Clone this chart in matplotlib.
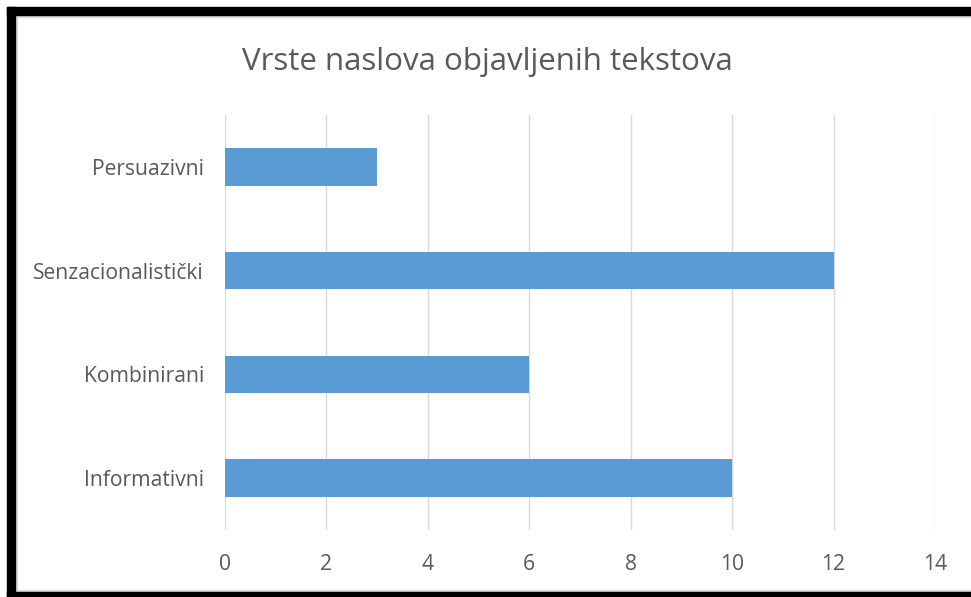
import matplotlib
matplotlib.use('Agg')
import matplotlib.pyplot as plt
from matplotlib.patches import Rectangle

categories = ['Informativni', 'Kombinirani', 'Senzacionalistički', 'Persuazivni']
values = [10, 6, 12, 3]
xticks = [0, 2, 4, 6, 8, 10, 12, 14]

W, H = 971, 597
fig = plt.figure(figsize=(W / 100, H / 100), dpi=100)
ax = fig.add_axes([225 / W, 1 - 530 / H, 710 / W, 415 / H])

plt.rcParams['font.family'] = ['Open Sans', 'DejaVu Sans']
grey = '#595959'
fam = ['Open Sans', 'DejaVu Sans']

ax.barh(range(len(categories)), values, height=0.36, color='#5B9BD5', zorder=3)
ax.set_xlim(0, 14)
ax.set_ylim(-0.5, len(categories) - 0.5)
ax.set_xticks(xticks)
ax.set_yticks(range(len(categories)))
ax.set_yticklabels(categories, fontsize=15.2, color=grey, family=fam)
ax.set_xticklabels([str(t) for t in xticks], fontsize=15.2, color=grey, family=fam)
ax.tick_params(length=0, pad=17, axis='x')
ax.tick_params(length=0, pad=15, axis='y')
ax.grid(axis='x', color='#D9D9D9', linewidth=1, zorder=0)
for s in ax.spines.values():
    s.set_visible(False)

fig.text(487 / W, 1 - 62 / H, 'Vrste naslova objavljenih tekstova', ha='center', va='center',
         fontsize=22.5, color=grey, family=fam)

# frame around the picture, in pixels
def box(x, y, w, h, c):
    fig.patches.append(Rectangle((x / W, 1 - (y + h) / H), w / W, h / H,
                                 transform=fig.transFigure, color=c, zorder=10))

box(15, 15, W - 15, 2, '#DDDDDD')
box(15, 15, 2, H - 20, '#DDDDDD')
box(15, 590, W - 15, 2, '#DDDDDD')
box(7, 7, W - 7, 8, 'black')
box(7, 7, 8, H - 7, 'black')
box(7, 592, W - 7, 5, 'black')

fig.savefig('out.png', dpi=100)
